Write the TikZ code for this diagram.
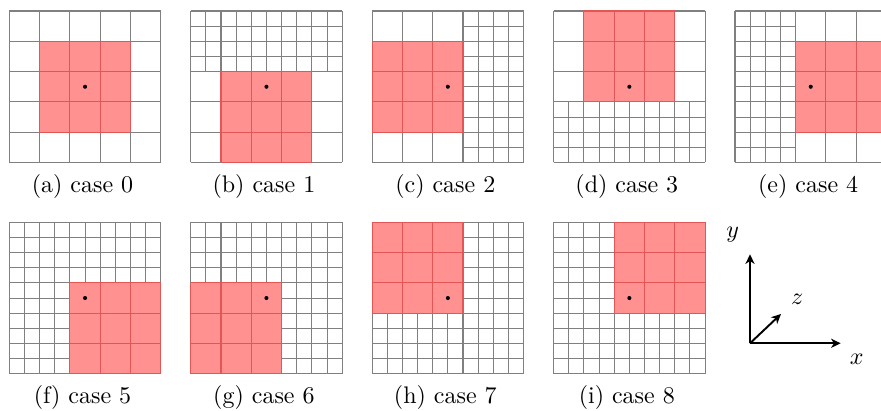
\documentclass[tikz,border=0pt]{standalone}
\usetikzlibrary{arrows.meta,calc}
\definecolor{redline}{RGB}{226,86,86}
\tikzset{
  gridline/.style={draw=black!50, line width=0.45pt},
  redgridline/.style={draw=redline, line width=0.45pt},
  redzone/.style={fill=red, fill opacity=0.43},
  capt/.style={anchor=base, inner sep=0pt, font=\normalsize},
  axisarrow/.style={line width=0.8pt, -{Stealth[length=4pt,width=3.8pt,inset=1.2pt]}},
  axlabel/.style={inner sep=0pt},
  panel/.style={x=6.3125pt, y=6.3125pt}
}
\newcommand\coarsegrid{%
  \foreach \i in {0,2,...,10}{\draw[gridline] (\i,0) -- (\i,10); \draw[gridline] (0,\i) -- (10,\i);}}
% fine lines (odd positions only; even ones come from the coarse grid)
\newcommand\finerect[4]{%
  \pgfmathtruncatemacro\fxa{#1+1}\pgfmathtruncatemacro\fxb{#1+3}\pgfmathtruncatemacro\fxc{#3-1}%
  \pgfmathtruncatemacro\fya{#2+1}\pgfmathtruncatemacro\fyb{#2+3}\pgfmathtruncatemacro\fyc{#4-1}%
  \foreach \i in {\fxa,\fxb,...,\fxc}{\draw[gridline] (\i,#2) -- (\i,#4);}%
  \foreach \j in {\fya,\fyb,...,\fyc}{\draw[gridline] (#1,\j) -- (#3,\j);}}
% red region: lower-left corner, 3x3 coarse cells
\newcommand\redblock[2]{%
  \fill[redzone] (#1,#2) rectangle ++(6,6);
  \foreach \k in {0,2,4,6}{%
    \draw[redgridline] ($(#1,#2)+(\k,0)$) -- ++(0,6);
    \draw[redgridline] ($(#1,#2)+(0,\k)$) -- ++(6,0);}}
\newcommand\centerdot{\fill (5,5) circle[radius=0.85pt];}
\begin{document}
\begin{tikzpicture}[x=0.41667pt, y=0.41667pt]
\useasboundingbox (0,0) rectangle (881,411);
\clip (0,0) rectangle (881,411);
% (a) case 0
\begin{scope}[shift={(9.3,248.5)}, panel]
  \coarsegrid
  \redblock{2}{2}
  \centerdot
\end{scope}
% (b) case 1
\begin{scope}[shift={(190.7,248.5)}, panel]
  \coarsegrid
  \finerect{0}{6}{10}{10}
  \redblock{2}{0}
  \centerdot
\end{scope}
% (c) case 2
\begin{scope}[shift={(372.1,248.5)}, panel]
  \coarsegrid
  \finerect{6}{0}{10}{10}
  \redblock{0}{2}
  \centerdot
\end{scope}
% (d) case 3
\begin{scope}[shift={(553.6,248.5)}, panel]
  \coarsegrid
  \finerect{0}{0}{10}{4}
  \redblock{2}{4}
  \centerdot
\end{scope}
% (e) case 4
\begin{scope}[shift={(735,248.5)}, panel]
  \coarsegrid
  \finerect{0}{0}{4}{10}
  \redblock{4}{2}
  \centerdot
\end{scope}
% (f) case 5
\begin{scope}[shift={(9.3,37.2)}, panel]
  \coarsegrid
  \finerect{0}{6}{10}{10}
  \finerect{0}{0}{4}{6}
  \redblock{4}{0}
  \centerdot
\end{scope}
% (g) case 6
\begin{scope}[shift={(190.7,37.2)}, panel]
  \coarsegrid
  \finerect{0}{6}{10}{10}
  \finerect{6}{0}{10}{6}
  \redblock{0}{0}
  \centerdot
\end{scope}
% (h) case 7
\begin{scope}[shift={(372.1,37.2)}, panel]
  \coarsegrid
  \finerect{0}{0}{10}{4}
  \finerect{6}{4}{10}{10}
  \redblock{0}{4}
  \centerdot
\end{scope}
% (i) case 8
\begin{scope}[shift={(553.6,37.2)}, panel]
  \coarsegrid
  \finerect{0}{0}{10}{4}
  \finerect{0}{4}{4}{10}
  \redblock{4}{4}
  \centerdot
\end{scope}
% captions
\node[capt] (capa) at (82.5,218.5) {(a) case 0};
\node[capt] (capb) at (263.9,218.5) {(b) case 1};
\node[capt] (capc) at (445.3,218.5) {(c) case 2};
\node[capt] (capd) at (626.8,218.5) {(d) case 3};
\node[capt] (cape) at (808.2,218.5) {(e) case 4};
\node[capt] (capf) at (82.5,7) {(f) case 5};
\node[capt] (capg) at (263.9,7) {(g) case 6};
\node[capt] (caph) at (445.3,7) {(h) case 7};
\node[capt] (capi) at (626.8,7) {(i) case 8};
% axes
\coordinate (O) at (750,67.7);
\coordinate (Y) at (750,156.7);
\coordinate (X) at (840.7,67.7);
\coordinate (Z) at (781,97);
\draw[axisarrow] (O) -- (Y);
\draw[axisarrow] (O) -- (X);
\draw[axisarrow] (O) -- (Z);
\node[axlabel] (ly) at (732.7,176.7) {$y$};
\node[axlabel] (lz) at (797.3,111.7) {$z$};
\node[axlabel] (lx) at (856.7,52) {$x$};
\end{tikzpicture}
\end{document}
